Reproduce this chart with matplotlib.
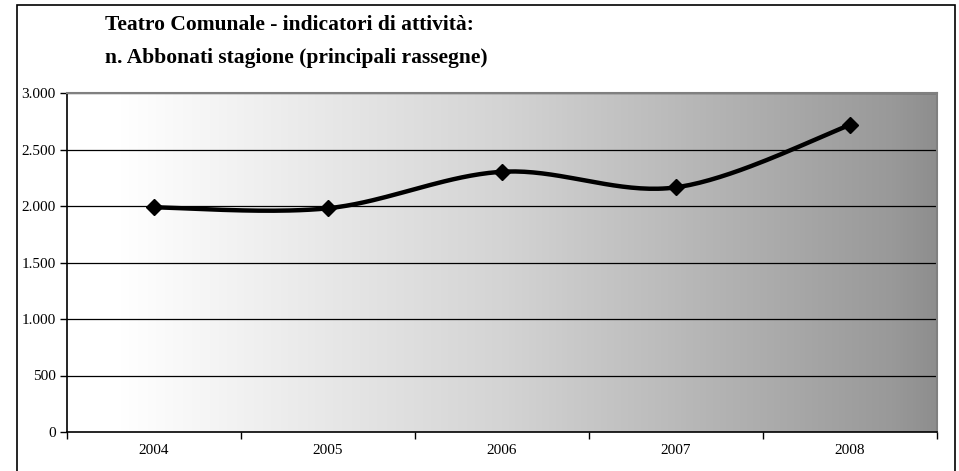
import matplotlib.pyplot as plt
import numpy as np
from matplotlib.colors import LinearSegmentedColormap
from matplotlib.patches import Rectangle
from matplotlib.ticker import FuncFormatter

years = ["2004", "2005", "2006", "2007", "2008"]
abbonati = [1988, 1980, 2303, 2165, 2717]
y_ticks = [0, 500, 1000, 1500, 2000, 2500, 3000]


def smooth_curve(xs, ys, steps=40):
    """Excel-like smoothed line: Catmull-Rom segments as cubic Bezier."""
    xs = np.asarray(xs, dtype=float)
    ys = np.asarray(ys, dtype=float)
    n = len(xs)
    out_x, out_y = [], []
    for i in range(n - 1):
        p0 = np.array([xs[max(i - 1, 0)], ys[max(i - 1, 0)]])
        p1 = np.array([xs[i], ys[i]])
        p2 = np.array([xs[i + 1], ys[i + 1]])
        p3 = np.array([xs[min(i + 2, n - 1)], ys[min(i + 2, n - 1)]])
        c1 = p1 + (p2 - p0) / 6.0
        c2 = p2 - (p3 - p1) / 6.0
        t = np.linspace(0, 1, steps)[:, None]
        pts = ((1 - t) ** 3) * p1 + 3 * ((1 - t) ** 2) * t * c1 \
            + 3 * (1 - t) * t ** 2 * c2 + t ** 3 * p2
        out_x.extend(pts[:, 0])
        out_y.extend(pts[:, 1])
    return np.array(out_x), np.array(out_y)


plt.rcParams["font.family"] = ["Liberation Serif", "DejaVu Serif"]

fig = plt.figure(figsize=(9.59, 4.71), dpi=100)
W, H = 959, 471
ax = fig.add_axes([67 / W, 1 - 432 / H, (937 - 67) / W, (432 - 93) / H])

# outer chart frame
fig.patches.append(Rectangle((17 / W, -0.1), (955 - 17) / W, 1.1 - 5 / H,
                             transform=fig.transFigure, fill=False,
                             edgecolor="black", linewidth=1.2, clip_on=False))

# horizontal grey gradient background (white -> mid grey)
bg_cmap = LinearSegmentedColormap.from_list(
    "bg", [(0.0, "#ffffff"), (0.06, "#ffffff"), (0.5, "#d4d4d4"),
           (0.95, "#999999"), (1.0, "#8e8e8e")])
grad = np.linspace(0, 1, 512)
ax.imshow(grad[None, :], extent=[0, 1, 0, 1], transform=ax.transAxes,
          aspect="auto", cmap=bg_cmap, vmin=0, vmax=1, zorder=0)

x = np.arange(len(years))
ax.set_xlim(-0.5, len(years) - 0.5)
ax.set_ylim(0, 3000)

for v in y_ticks[1:]:
    ax.axhline(v, color="black", linewidth=0.9, zorder=1)

sx, sy = smooth_curve(x, abbonati)
ax.plot(sx, sy, color="black", linewidth=3.2, zorder=3, solid_capstyle="round")
ax.plot(x, abbonati, linestyle="none", marker="D", markersize=8.5,
        color="black", zorder=4)

ax.set_yticks(y_ticks)
ax.yaxis.set_major_formatter(FuncFormatter(lambda v, p: f"{int(v):,}".replace(",", ".")))
ax.set_xticks(np.arange(-0.5, len(years)), minor=False)
ax.set_xticklabels([])
ax.set_xticks(x, minor=True)
ax.set_xticklabels(years, minor=True)
ax.tick_params(axis="x", which="minor", length=0, pad=9, labelsize=11)
ax.tick_params(axis="x", which="major", length=5, direction="out", width=1)
ax.tick_params(axis="y", length=5, direction="out", width=1, labelsize=11, pad=3)

ax.spines["left"].set_color("black")
ax.spines["bottom"].set_color("black")
ax.spines["left"].set_linewidth(1.2)
ax.spines["bottom"].set_linewidth(1.2)
ax.spines["top"].set_color("#808080")
ax.spines["right"].set_color("#808080")
ax.spines["top"].set_linewidth(1.5)
ax.spines["right"].set_linewidth(1.5)

fig.text(105 / W, 1 - 30 / H, "Teatro Comunale - indicatori di attività:",
         fontsize=15.5, fontweight="bold", ha="left", va="baseline")
fig.text(105 / W, 1 - 63 / H, "n. Abbonati stagione (principali rassegne)",
         fontsize=15.5, fontweight="bold", ha="left", va="baseline")

fig.savefig("out.png", dpi=100)
